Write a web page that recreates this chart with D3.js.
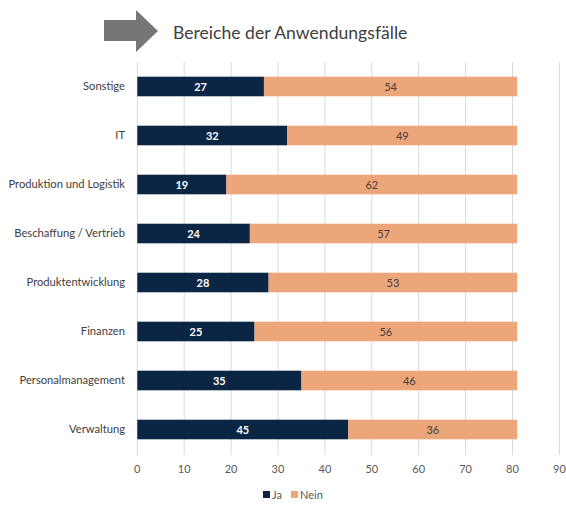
<!DOCTYPE html>
<html>
<head>
<meta charset="utf-8">
<script src="https://cdn.jsdelivr.net/npm/d3@7"></script>
<style>
  body { margin: 0; background: #fff; }
  svg text { font-family: Lato, "Open Sans", sans-serif; }
</style>
</head>
<body>
<div id="chart"></div>
<script>
const categories = ['Sonstige', 'IT', 'Produktion und Logistik', 'Beschaffung / Vertrieb',
  'Produktentwicklung', 'Finanzen', 'Personalmanagement', 'Verwaltung'];
const ja = [27, 32, 19, 24, 28, 25, 35, 45];
const nein = [54, 49, 62, 57, 53, 56, 46, 36];
const ticks = [0, 10, 20, 30, 40, 50, 60, 70, 80, 90];
const seriesNames = ['Ja', 'Nein'];
const colors = ['#0b2545', '#eda67a'];

const width = 566, height = 505;
const margin = { top: 62, right: 7, bottom: 51, left: 137.3 };

const svg = d3.select('#chart').append('svg')
  .attr('width', width)
  .attr('height', height);

const x = d3.scaleLinear()
  .domain([0, 90])
  .range([margin.left, 559.4]);

const y = d3.scaleBand()
  .domain(categories)
  .range([margin.top, height - margin.bottom])
  .paddingInner(0.6)
  .paddingOuter(0.3);

// gridlines
svg.append('g')
  .selectAll('line')
  .data(ticks)
  .join('line')
  .attr('x1', d => x(d)).attr('x2', d => x(d))
  .attr('y1', margin.top).attr('y2', height - margin.bottom + 1)
  .attr('stroke', '#d9d9d9')
  .attr('stroke-width', 1);

// tick labels
svg.append('g')
  .selectAll('text')
  .data(ticks)
  .join('text')
  .attr('x', d => x(d))
  .attr('y', 473)
  .attr('text-anchor', 'middle')
  .attr('font-size', '11px')
  .attr('fill', '#595959')
  .text(d => d);

const rows = categories.map((c, i) => ({ cat: c, ja: ja[i], nein: nein[i] }));
const stack = d3.stack().keys(['ja', 'nein'])(rows);

const layer = svg.append('g')
  .selectAll('g')
  .data(stack)
  .join('g')
  .attr('fill', (d, i) => colors[i]);

layer.selectAll('rect')
  .data(d => d)
  .join('rect')
  .attr('x', d => x(d[0]))
  .attr('y', d => y(d.data.cat))
  .attr('width', d => x(d[1]) - x(d[0]))
  .attr('height', y.bandwidth());

layer.selectAll('text')
  .data((d, i) => d.map(v => ({ v, i })))
  .join('text')
  .attr('x', d => (x(d.v[0]) + x(d.v[1])) / 2)
  .attr('y', d => y(d.v.data.cat) + y.bandwidth() / 2 + 4)
  .attr('text-anchor', 'middle')
  .attr('font-size', '11px')
  .attr('font-weight', d => d.i === 0 ? 'bold' : 'normal')
  .attr('fill', d => d.i === 0 ? '#ffffff' : '#404040')
  .text(d => d.v[1] - d.v[0]);

// category labels
svg.append('g')
  .selectAll('text')
  .data(categories)
  .join('text')
  .attr('x', 125)
  .attr('y', d => y(d) + y.bandwidth() / 2 + 3.5)
  .attr('text-anchor', 'end')
  .attr('font-size', '11.2px')
  .attr('fill', '#404040')
  .text(d => d);

// title with arrow
svg.append('path')
  .attr('d', 'M104,20 L136,20 L136,10 L158,31 L136,52 L136,41 L104,41 Z')
  .attr('fill', '#767676');

svg.append('text')
  .attr('x', 173)
  .attr('y', 39)
  .attr('font-size', '17.6px')
  .attr('fill', '#404040')
  .text('Bereiche der Anwendungsfälle');

// legend
const legend = svg.append('g');
const legX = [263, 291];
seriesNames.forEach((n, i) => {
  legend.append('rect')
    .attr('x', legX[i]).attr('y', 491)
    .attr('width', 7).attr('height', 7)
    .attr('fill', colors[i]);
  legend.append('text')
    .attr('x', legX[i] + 9).attr('y', 499)
    .attr('font-size', '11px')
    .attr('fill', '#595959')
    .text(n);
});
</script>
</body>
</html>
